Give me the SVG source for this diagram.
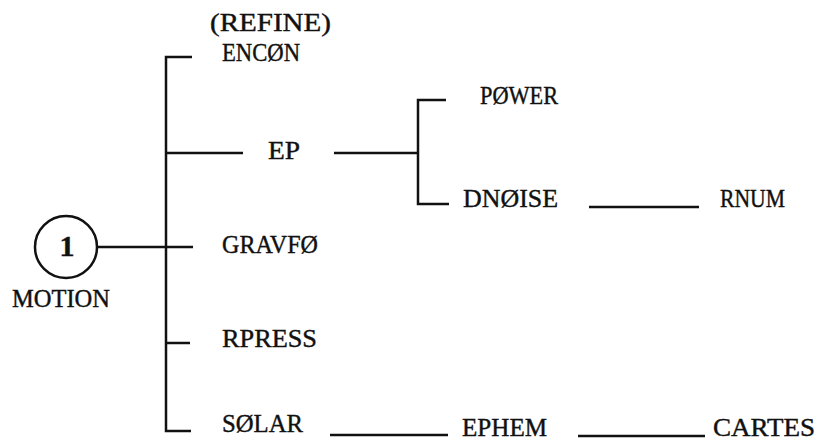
<svg xmlns="http://www.w3.org/2000/svg" width="818" height="446" viewBox="0 0 818 446">
<style>
text{font-family:"Liberation Serif","DejaVu Serif",serif;font-size:25px;fill:#111;stroke:#111;stroke-width:0.4}
.c line,.c polyline{stroke:#111;stroke-width:2.5;fill:none}
</style>
<rect width="818" height="446" fill="#fff"/>
<g class="c" id="connectors">
<polyline points="192,57 166,57 166,431 191,431"/>
<line x1="166" y1="153" x2="243" y2="153"/>
<line x1="334" y1="153" x2="418" y2="153"/>
<polyline points="446,100 418,100 418,204 449,204"/>
<line x1="589" y1="207" x2="699" y2="207"/>
<line x1="98" y1="247" x2="193" y2="247"/>
<line x1="166" y1="343" x2="190" y2="343"/>
<line x1="330" y1="435" x2="448" y2="435"/>
<line x1="578" y1="436" x2="705" y2="436"/>
</g>
<g id="motion">
<circle cx="66" cy="247" r="31" fill="none" stroke="#111" stroke-width="2.5"/>
<text x="67" y="256" text-anchor="middle" font-weight="bold" style="font-size:30px">1</text>
<text x="12" y="307" textLength="98" lengthAdjust="spacingAndGlyphs">MOTION</text>
</g>
<g id="encon">
<text x="210" y="31" textLength="121" lengthAdjust="spacingAndGlyphs">(REFINE)</text>
<text x="222" y="61" textLength="78" lengthAdjust="spacingAndGlyphs">ENCØN</text>
</g>
<g id="ep"><text x="268" y="159" textLength="32" lengthAdjust="spacingAndGlyphs">EP</text></g>
<g id="power"><text x="480" y="104" textLength="78" lengthAdjust="spacingAndGlyphs">PØWER</text></g>
<g id="dnoise"><text x="463" y="207" textLength="95" lengthAdjust="spacingAndGlyphs">DNØISE</text></g>
<g id="rnum"><text x="720" y="207" textLength="65" lengthAdjust="spacingAndGlyphs">RNUM</text></g>
<g id="gravfo"><text x="222" y="253" textLength="96" lengthAdjust="spacingAndGlyphs">GRAVFØ</text></g>
<g id="rpress"><text x="222" y="347" textLength="95" lengthAdjust="spacingAndGlyphs">RPRESS</text></g>
<g id="solar"><text x="222" y="432" textLength="81" lengthAdjust="spacingAndGlyphs">SØLAR</text></g>
<g id="ephem"><text x="462" y="436" textLength="85" lengthAdjust="spacingAndGlyphs">EPHEM</text></g>
<g id="cartes"><text x="713" y="436" textLength="102" lengthAdjust="spacingAndGlyphs">CARTES</text></g>
</svg>
